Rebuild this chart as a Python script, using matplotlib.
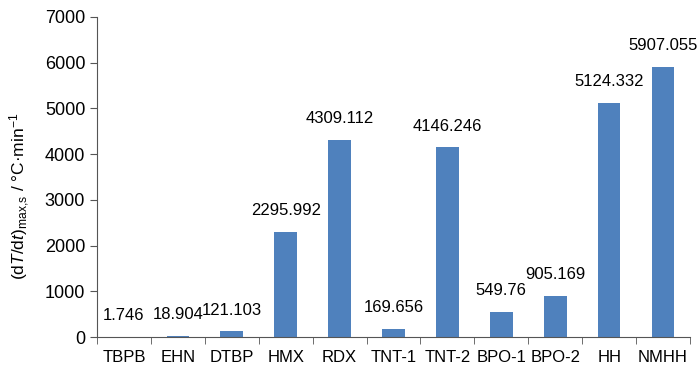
import matplotlib
matplotlib.use("Agg")
import matplotlib.pyplot as plt
from matplotlib import font_manager as fm
import numpy as np

categories = ["TBPB", "EHN", "DTBP", "HMX", "RDX", "TNT-1", "TNT-2", "BPO-1", "BPO-2", "HH", "NMHH"]
values = [1.746, 18.904, 121.103, 2295.992, 4309.112, 169.656, 4146.246, 549.76, 905.169, 5124.332, 5907.055]
labels = ["1.746", "18.904", "121.103", "2295.992", "4309.112", "169.656", "4146.246", "549.76", "905.169", "5124.332", "5907.055"]

names = {f.name for f in fm.fontManager.ttflist}
fam = ["Liberation Sans Narrow", "Liberation Sans", "DejaVu Sans"]
fam = [f for f in fam if f in names] or ["DejaVu Sans"]
plt.rcParams['font.family'] = fam
plt.rcParams['mathtext.fontset'] = 'custom'
plt.rcParams['mathtext.rm'] = fam[0]
plt.rcParams['mathtext.it'] = fam[0] + ':italic'

FS = 12

fig = plt.figure(figsize=(7, 3.75), dpi=100)
ax = fig.add_axes([97/700, 38/375, 593/700, 320/375])

x = np.arange(len(categories))
ax.bar(x, values, width=0.42, color="#4F81BD")
for xi, v, lab in zip(x, values, labels):
    ax.annotate(lab, (xi, v), xytext=(0, 10), textcoords="offset points",
                ha="center", va="bottom", fontsize=FS)

ax.set_xlim(-0.5, len(categories) - 0.5)
ax.set_ylim(0, 7000)
ax.set_yticks(np.arange(0, 7001, 1000))
ax.set_xticks(x)
ax.set_xticklabels(categories, fontsize=FS)
ax.set_xticks(np.arange(-0.5, len(categories), 1), minor=True)
ax.tick_params(axis='x', which='major', length=0, pad=9)
ax.tick_params(axis='x', which='minor', length=5, direction='out', color='#555555')
ax.tick_params(axis='y', labelsize=FS + 1, length=5, direction='out', color='#555555')
for s in ["top", "right"]:
    ax.spines[s].set_visible(False)
for s in ["left", "bottom"]:
    ax.spines[s].set_color('#555555')
ax.set_ylabel(r'(d$\mathit{T}$/d$\mathit{t}$)$_{\mathrm{max{,}s}}$ / °C·min$^{-1}$', fontsize=12.5)
ax.yaxis.set_label_coords(-0.11, 0.44)

fig.savefig("out.png", dpi=100)
